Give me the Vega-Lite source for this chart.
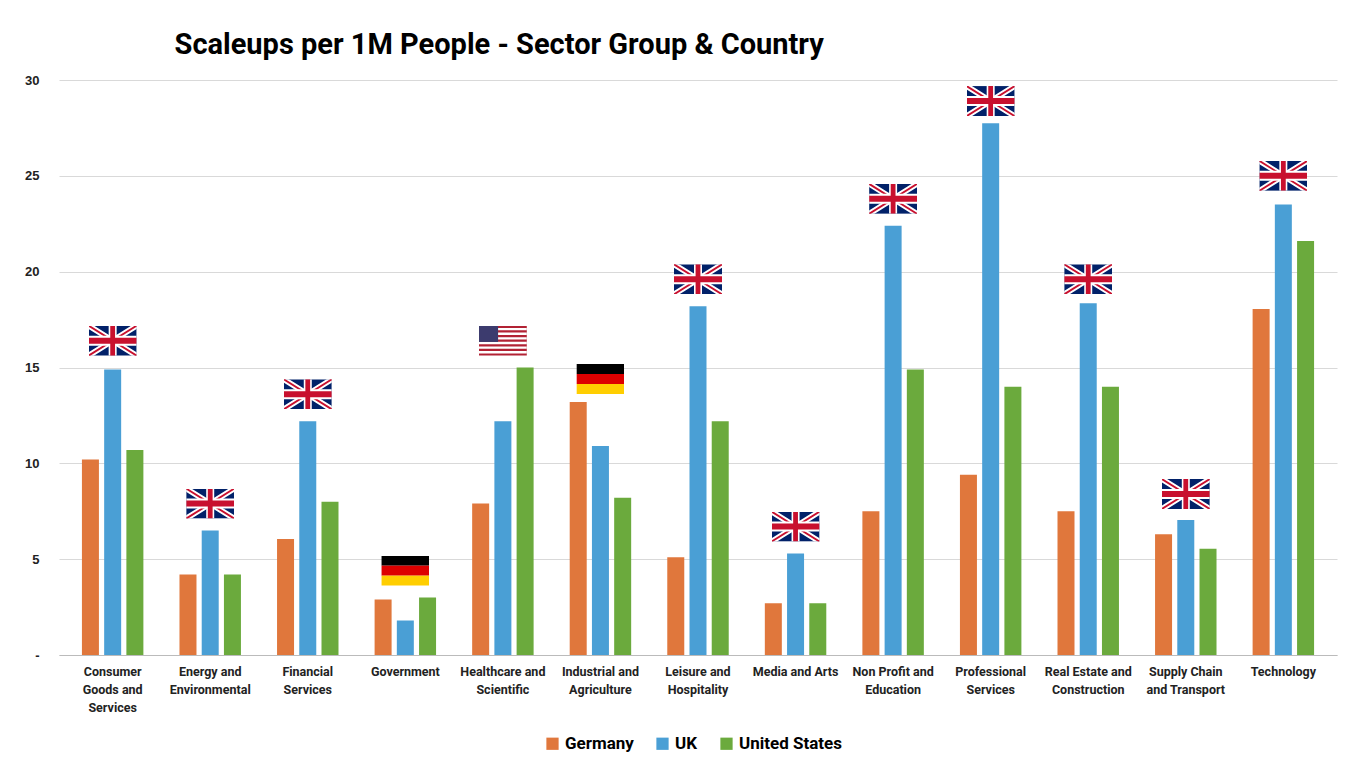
{
  "$schema": "https://vega.github.io/schema/vega-lite/v6.json",
  "width": 1278,
  "height": 575,
  "padding": {"left": 24, "top": 31, "right": 15, "bottom": 5},
  "background": "white",
  "config": {"view": {"stroke": null}, "font": "Liberation Sans"},
  "title": {"text": "Scaleups per 1M People - Sector Group & Country", "fontSize": 29, "font": "Roboto", "fontWeight": "bold", "anchor": "start", "dx": 150, "offset": 14, "color": "black"},
  "datasets": {
    "bars": [
      {"sector": "Consumer|Goods and|Services", "country": "Germany", "value": 10.2},
      {"sector": "Consumer|Goods and|Services", "country": "UK", "value": 14.9},
      {"sector": "Consumer|Goods and|Services", "country": "United States", "value": 10.7},
      {"sector": "Energy and|Environmental", "country": "Germany", "value": 4.2},
      {"sector": "Energy and|Environmental", "country": "UK", "value": 6.5},
      {"sector": "Energy and|Environmental", "country": "United States", "value": 4.2},
      {"sector": "Financial|Services", "country": "Germany", "value": 6.05},
      {"sector": "Financial|Services", "country": "UK", "value": 12.2},
      {"sector": "Financial|Services", "country": "United States", "value": 8.0},
      {"sector": "Government", "country": "Germany", "value": 2.9},
      {"sector": "Government", "country": "UK", "value": 1.8},
      {"sector": "Government", "country": "United States", "value": 3.0},
      {"sector": "Healthcare and|Scientific", "country": "Germany", "value": 7.9},
      {"sector": "Healthcare and|Scientific", "country": "UK", "value": 12.2},
      {"sector": "Healthcare and|Scientific", "country": "United States", "value": 15.0},
      {"sector": "Industrial and|Agriculture", "country": "Germany", "value": 13.2},
      {"sector": "Industrial and|Agriculture", "country": "UK", "value": 10.9},
      {"sector": "Industrial and|Agriculture", "country": "United States", "value": 8.2},
      {"sector": "Leisure and|Hospitality", "country": "Germany", "value": 5.1},
      {"sector": "Leisure and|Hospitality", "country": "UK", "value": 18.2},
      {"sector": "Leisure and|Hospitality", "country": "United States", "value": 12.2},
      {"sector": "Media and Arts", "country": "Germany", "value": 2.7},
      {"sector": "Media and Arts", "country": "UK", "value": 5.3},
      {"sector": "Media and Arts", "country": "United States", "value": 2.7},
      {"sector": "Non Profit and|Education", "country": "Germany", "value": 7.5},
      {"sector": "Non Profit and|Education", "country": "UK", "value": 22.4},
      {"sector": "Non Profit and|Education", "country": "United States", "value": 14.9},
      {"sector": "Professional|Services", "country": "Germany", "value": 9.4},
      {"sector": "Professional|Services", "country": "UK", "value": 27.75},
      {"sector": "Professional|Services", "country": "United States", "value": 14.0},
      {"sector": "Real Estate and|Construction", "country": "Germany", "value": 7.5},
      {"sector": "Real Estate and|Construction", "country": "UK", "value": 18.35},
      {"sector": "Real Estate and|Construction", "country": "United States", "value": 14.0},
      {"sector": "Supply Chain|and Transport", "country": "Germany", "value": 6.3},
      {"sector": "Supply Chain|and Transport", "country": "UK", "value": 7.05},
      {"sector": "Supply Chain|and Transport", "country": "United States", "value": 5.55},
      {"sector": "Technology", "country": "Germany", "value": 18.05},
      {"sector": "Technology", "country": "UK", "value": 23.5},
      {"sector": "Technology", "country": "United States", "value": 21.6}
    ],
    "flags": [
      {"sector": "Consumer|Goods and|Services", "leader": "UK", "flagAt": 16.4},
      {"sector": "Energy and|Environmental", "leader": "UK", "flagAt": 7.9},
      {"sector": "Financial|Services", "leader": "UK", "flagAt": 13.6},
      {"sector": "Government", "leader": "Germany", "flagAt": 4.4},
      {"sector": "Healthcare and|Scientific", "leader": "United States", "flagAt": 16.4},
      {"sector": "Industrial and|Agriculture", "leader": "Germany", "flagAt": 14.4},
      {"sector": "Leisure and|Hospitality", "leader": "UK", "flagAt": 19.6},
      {"sector": "Media and Arts", "leader": "UK", "flagAt": 6.7},
      {"sector": "Non Profit and|Education", "leader": "UK", "flagAt": 23.8},
      {"sector": "Professional|Services", "leader": "UK", "flagAt": 28.9},
      {"sector": "Real Estate and|Construction", "leader": "UK", "flagAt": 19.6},
      {"sector": "Supply Chain|and Transport", "leader": "UK", "flagAt": 8.4},
      {"sector": "Technology", "leader": "UK", "flagAt": 25.0}
    ],
    "flagImages": [
      {"leader": "UK", "img": "data:image/svg+xml;utf8,<svg xmlns='http://www.w3.org/2000/svg' viewBox='0 0 60 30' width='60' height='30' preserveAspectRatio='none'><rect width='60' height='30' fill='%23012169'/><path d='M0,0L60,30M60,0L0,30' stroke='%23fff' stroke-width='6'/><path d='M0,0L60,30M60,0L0,30' stroke='%23C8102E' stroke-width='2'/><path d='M30,0V30M0,15H60' stroke='%23fff' stroke-width='10'/><path d='M30,0V30M0,15H60' stroke='%23C8102E' stroke-width='6'/></svg>"},
      {"leader": "Germany", "img": "data:image/svg+xml;utf8,<svg xmlns='http://www.w3.org/2000/svg' viewBox='0 0 60 30' width='60' height='30' preserveAspectRatio='none'><rect width='60' height='10' fill='%23000'/><rect y='10' width='60' height='10' fill='%23DD0000'/><rect y='20' width='60' height='10' fill='%23FFCE00'/></svg>"},
      {"leader": "United States", "img": "data:image/svg+xml;utf8,<svg xmlns='http://www.w3.org/2000/svg' viewBox='0 0 65 35' width='65' height='35' preserveAspectRatio='none'><rect width='65' height='35' fill='%23B22234'/><path d='M0,4H65M0,9.4H65M0,14.8H65M0,20.2H65M0,25.6H65M0,31H65' stroke='%23fff' stroke-width='2.7'/><rect width='26' height='19' fill='%233C3B6E'/></svg>"}
    ]
  },
  "layer": [
    {
      "data": {"name": "bars"},
      "mark": {"type": "bar", "width": 17},
      "encoding": {
        "x": {"field": "sector", "type": "nominal", "sort": null, "scale": {"paddingInner": 0.1, "paddingOuter": 0.1},
          "axis": {"title": null, "labelAngle": 0, "labelExpr": "split(datum.label, '|')", "labelFontSize": 12.5, "labelFontWeight": "bold", "labelColor": "#222", "labelFont": "Roboto", "ticks": false, "domainColor": "#bbb", "labelPadding": 10, "labelLineHeight": 18}},
        "xOffset": {"field": "country", "type": "nominal", "scale": {"paddingInner": 0.25, "paddingOuter": 0.6}},
        "y": {"field": "value", "type": "quantitative", "scale": {"domain": [0, 30]},
          "axis": {"title": null, "values": [0, 5, 10, 15, 20, 25, 30], "labelExpr": "datum.value == 0 ? '-' : datum.label", "labelFontSize": 13, "labelFontWeight": "bold", "labelColor": "#222", "ticks": false, "domain": false, "gridColor": "#d9d9d9", "labelPadding": 20}},
        "color": {"field": "country", "type": "nominal", "scale": {"domain": ["Germany", "UK", "United States"], "range": ["#E0773C", "#4A9FD5", "#6BAA3D"]},
          "legend": {"title": null, "orient": "none", "legendX": 485, "legendY": 655, "direction": "horizontal", "symbolType": "square", "symbolSize": 150, "labelFontSize": 17, "labelFontWeight": "bold", "labelFont": "Roboto", "columnPadding": 20}}
      }
    },
    {
      "data": {"name": "flags"},
      "transform": [{"lookup": "leader", "from": {"data": {"name": "flagImages"}, "key": "leader", "fields": ["img"]}}],
      "mark": {"type": "image", "width": 48, "height": 30, "aspect": false},
      "encoding": {
        "x": {"field": "sector", "type": "nominal", "sort": null},
        "y": {"field": "flagAt", "type": "quantitative"},
        "url": {"field": "img", "type": "nominal"}
      }
    }
  ]
}
